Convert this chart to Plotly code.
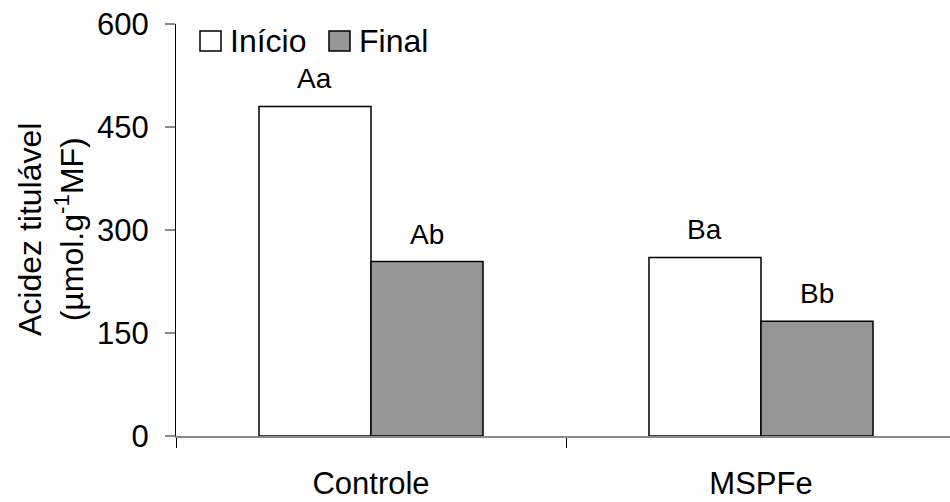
import plotly.graph_objects as go

# Data
categories = ["Controle", "MSPFe"]
series_names = ["Início", "Final"]
inicio = [480, 260]
final = [254, 167]
inicio_labels = ["Aa", "Ba"]
final_labels = ["Ab", "Bb"]
y_ticks = [0, 150, 300, 450, 600]

# Layout geometry (pixels)
W, H = 950, 502
ML, MR, MT, MB = 176, 0, 24, 66
PW, PH = W - ML - MR, H - MT - MB
CAT_PX = 390  # width of one category slot
FONT = "Liberation Sans, Arial, sans-serif"
GRAY = "#969696"


def px_x(p):
    return (p - ML) / PW


def px_y(p):
    return (H - MB - p) / PH


fig = go.Figure()
fig.add_trace(go.Bar(
    x=categories, y=inicio, name=series_names[0],
    marker=dict(color="white", line=dict(color="black", width=1.5)),
    showlegend=False,
))
fig.add_trace(go.Bar(
    x=categories, y=final, name=series_names[1],
    marker=dict(color=GRAY, line=dict(color="black", width=1.5)),
    showlegend=False,
))

# Significance letters above each bar
bar_px = CAT_PX * (1 - 0.4256) / 2
for cat, v, lab in zip(categories, inicio, inicio_labels):
    fig.add_annotation(x=cat, y=v, text=lab, xshift=-bar_px / 2, yshift=10,
                       yanchor="bottom", showarrow=False,
                       font=dict(size=28, color="black", family=FONT))
for cat, v, lab in zip(categories, final, final_labels):
    fig.add_annotation(x=cat, y=v, text=lab, xshift=bar_px / 2, yshift=10,
                       yanchor="bottom", showarrow=False,
                       font=dict(size=28, color="black", family=FONT))

# Legend drawn as boxes + text
legend_items = [(series_names[0], "white", 200), (series_names[1], GRAY, 329)]
for name, color, left in legend_items:
    fig.add_shape(type="rect", xref="paper", yref="paper",
                  x0=px_x(left), x1=px_x(left + 21), y0=px_y(51), y1=px_y(31),
                  fillcolor=color, line=dict(color="black", width=1.5))
    fig.add_annotation(xref="paper", yref="paper", x=px_x(left + 28), y=px_y(41),
                       xanchor="left", yanchor="middle", text=name, showarrow=False,
                       font=dict(size=32, color="black", family=FONT))

# Y-axis title
fig.add_annotation(xref="paper", yref="paper", x=px_x(51), y=0.5,
                   xanchor="center", yanchor="middle", textangle=-90,
                   text="Acidez titulável<br>(µmol.g<sup>-1</sup>MF)",
                   showarrow=False,
                   font=dict(size=32, color="black", family=FONT))

fig.update_layout(
    width=W, height=H,
    margin=dict(l=ML, r=MR, t=MT, b=MB, pad=0, autoexpand=False),
    paper_bgcolor="white", plot_bgcolor="white",
    barmode="group", bargap=0.4256, bargroupgap=0,
    font=dict(family=FONT, color="black"),
)
fig.update_xaxes(
    type="category", range=[-0.5, -0.5 + PW / CAT_PX], automargin=False,
    tickson="boundaries", ticks="outside", ticklen=10, tickwidth=1, tickcolor="black",
    showline=True, linecolor="#8a8a8a", linewidth=2,
    showgrid=False, zeroline=False,
    tickfont=dict(size=31, family=FONT, color="black"),
    ticklabelstandoff=19,
)
fig.update_yaxes(
    range=[0, 600], tickvals=y_ticks, automargin=False,
    ticks="outside", ticklen=10, tickwidth=2, tickcolor="#8a8a8a",
    showline=True, linecolor="black", linewidth=1,
    showgrid=False, zeroline=False,
    tickfont=dict(size=31, family=FONT, color="black"),
    ticklabelstandoff=10,
)

fig.write_html("out.html")
